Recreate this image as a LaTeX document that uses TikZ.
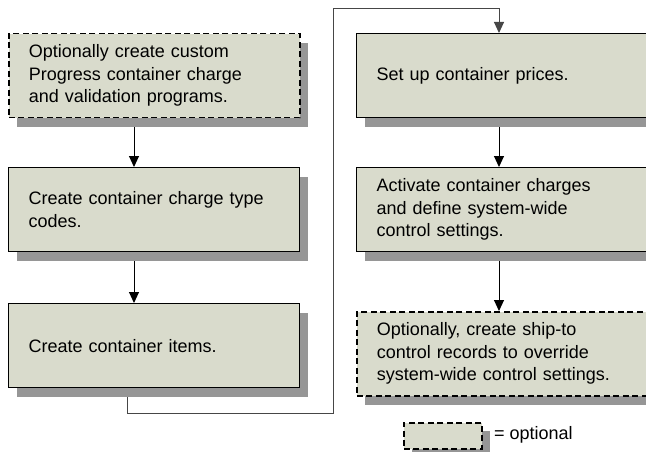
\documentclass[tikz,border=0pt]{standalone}
\usepackage{fontspec}
\setmainfont{Liberation Sans}
\usetikzlibrary{arrows.meta,shadows,backgrounds}

\definecolor{boxfill}{RGB}{217,219,204}
\definecolor{shadowgray}{RGB}{150,150,150}
\definecolor{linkgray}{RGB}{70,70,70}

\tikzset{
  stepbox/.style={draw=black, line width=1.3pt, fill=boxfill, anchor=north west,
    minimum height=84pt, text width=251pt, inner xsep=20pt, inner ysep=0pt,
    align=left, font=\fontsize{18}{22.5}\selectfont,
    drop shadow={shadow xshift=8pt, shadow yshift=-9pt, fill=shadowgray, opacity=1}},
  optbox/.style={stepbox, line width=1.5pt, dash pattern=on 6pt off 3.5pt},
  keybox/.style={draw=black, line width=1.5pt, dash pattern=on 6pt off 3.5pt,
    fill=boxfill, anchor=north west, minimum width=78pt, minimum height=26pt,
    inner sep=0pt,
    drop shadow={shadow xshift=8pt, shadow yshift=-8pt, fill=shadowgray, opacity=1}},
  keytext/.style={anchor=west, inner sep=0pt, font=\fontsize{18}{22.5}\selectfont},
  tip/.style={-{Triangle[width=10pt,length=11pt]}},
  arr/.style={draw=black, line width=1pt, tip},
  link/.style={draw=linkgray, line width=1pt, tip}
}

\begin{document}
\begin{tikzpicture}[x=1pt, y=-1pt]
  \useasboundingbox (0,0) rectangle (646,452);
  \clip (0,0) rectangle (646,452);

  % left column
  \node[optbox] (b1) at (8,33) {Optionally create custom\\Progress container charge\\and validation programs.};
  \node[stepbox] (b2) at (8,167) {Create container charge type\\codes.};
  \node[stepbox] (b3) at (8,303) {Create container items.};

  % right column (runs off the right edge)
  \node[stepbox] (b4) at (356,33) {Set up container prices.};
  \node[stepbox] (b5) at (356,167) {Activate container charges\\and define system-wide\\control settings.};
  \node[optbox] (b6) at (356,311) {Optionally, create ship-to\\control records to override\\system-wide control settings.};

  % legend
  \node[keybox] (key) at (403,422) {};
  \node[keytext] (keylabel) at (494,435) {= optional};

  % connector columns and turning points
  \coordinate (lx) at (134,0);
  \coordinate (rx) at (499,0);
  \coordinate (ox) at (127,0);
  \coordinate (low) at (333,413);
  \coordinate (high) at (499,9);

  \begin{scope}[on background layer]
    \draw[arr] (b1.south -| lx) -- (b2.north -| lx);
    \draw[arr] (b2.south -| lx) -- (b3.north -| lx);
    \draw[arr] (b4.south -| rx) -- (b5.north -| rx);
    \draw[arr] (b5.south -| rx) -- (b6.north -| rx);
    \draw[link] (b3.south -| ox) |- (low) |- (high) -- (b4.north -| rx);
  \end{scope}
\end{tikzpicture}
\end{document}
